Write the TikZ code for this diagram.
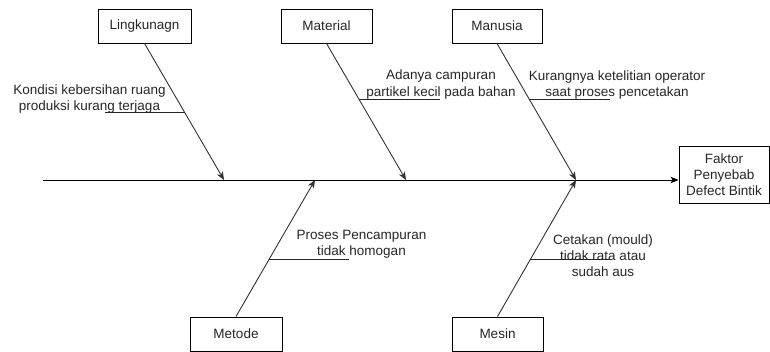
\documentclass[tikz,border=0pt]{standalone}
\usepackage{fontspec}
\setmainfont{Liberation Sans}
\usetikzlibrary{arrows.meta}
\begin{document}
\begin{tikzpicture}[x=1pt,y=-1pt,
  every node/.style={font=\fontsize{13.5}{16.2}\selectfont, text=black!85},
  cause/.style={draw, line width=0.9pt, minimum height=34pt, inner sep=0pt},
  lbl/.style={align=center, inner sep=0pt},
  bone/.style={line width=0.9pt, draw=black!80, -{Stealth[length=8pt,width=6.5pt,inset=2pt]}},
  sub/.style={line width=0.9pt, draw=black!85}]
\useasboundingbox (0,0) rectangle (770,352);
% boxes
\node[cause, minimum width=93pt] (lk) at (144.5,26) {Lingkunagn};
\node[cause, minimum width=91pt] (mt) at (326.5,26) {Material};
\node[cause, minimum width=90pt] (mn) at (497,26) {Manusia};
\node[cause, minimum width=92pt] (me) at (236,334) {Metode};
\node[cause, minimum width=91pt] (ms) at (497.5,334) {Mesin};
\node[cause, minimum width=90pt, minimum height=57pt, align=center] (fk) at (724,174.5) {Faktor\\Penyebab\\Defect Bintik};
% spine
\coordinate (s0) at (43,180);
\draw[bone, draw=black] (s0) -- (s0 -| fk.west);
% tips
\coordinate (tL) at (224,180);
\coordinate (tMt) at (406,180);
\coordinate (tMn) at (576,180);
\coordinate (tMe) at (315,180);
\coordinate (tMs) at (576,180);
% bones
\draw[bone] (lk.south) -- (tL) coordinate[pos=0.504] (jL);
\draw[bone] (mt.south) -- (tMt) coordinate[pos=0.409] (jMt);
\draw[bone] (mn.south) -- (tMn) coordinate[pos=0.409] (jMn);
\draw[bone] (me.north) -- (tMe) coordinate[pos=0.416] (jMe);
\draw[bone] (ms.north) -- (tMs) coordinate[pos=0.416] (jMs);
% sub-cause lines
\coordinate (eL) at (105,0);
\coordinate (eMt) at (440,0);
\coordinate (eMn) at (610,0);
\coordinate (eMe) at (349,0);
\coordinate (eMs) at (610,0);
\draw[sub] (jL) -- (jL -| eL);
\draw[sub] (jMt) -- (jMt -| eMt);
\draw[sub] (jMn) -- (jMn -| eMn);
\draw[sub] (jMe) -- (jMe -| eMe);
\draw[sub] (jMs) -- (jMs -| eMs);
% labels
\node[lbl] (xL) at (89.5,99) {Kondisi kebersihan ruang\\produksi kurang terjaga};
\node[lbl] (xMt) at (441,84.5) {Adanya campuran\\partikel kecil pada bahan};
\node[lbl] (xMn) at (617,85) {Kurangnya ketelitian operator\\saat proses pencetakan};
\node[lbl] (xMe) at (361.5,244.5) {Proses Pencampuran\\tidak homogan};
\node[lbl] (xMs) at (603,255.5) {Cetakan (mould)\\tidak rata atau\\sudah aus};
\end{tikzpicture}
\end{document}
